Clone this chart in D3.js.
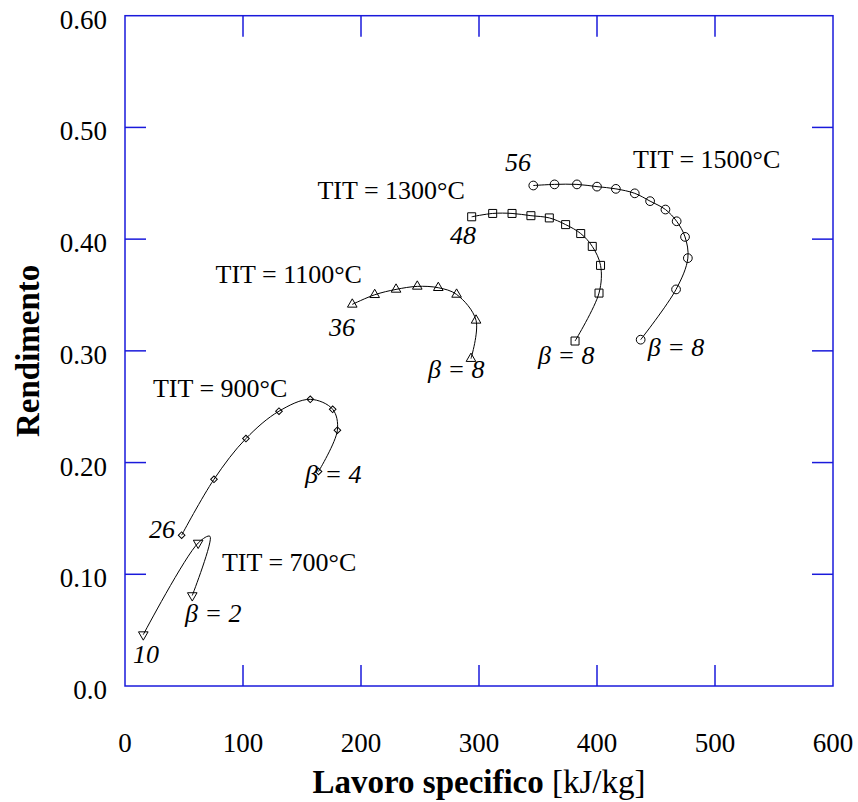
<!DOCTYPE html>
<html>
<head>
<meta charset="utf-8">
<script src="https://cdn.jsdelivr.net/npm/d3@7"></script>
<style>
  body { margin: 0; background: #fff; }
  svg { display: block; font-family: "Liberation Serif", "DejaVu Serif", serif; }
</style>
</head>
<body>
<svg id="chart" width="858" height="802"></svg>
<script>
// values: [lavoro specifico kJ/kg, rendimento]
const tit1500 = [[346, 0.448], [364, 0.449], [383, 0.449], [400, 0.447], [416, 0.445], [432, 0.441],
                 [445, 0.434], [458, 0.4265], [467.5, 0.416], [474.6, 0.402], [477, 0.383], [467, 0.355], [437, 0.310]];
const tit1300 = [[293.8, 0.420], [311.6, 0.423], [328, 0.423], [344, 0.421], [359.6, 0.419], [373.4, 0.413],
                 [386.2, 0.405], [396, 0.3935], [403, 0.3765], [401.7, 0.3517], [381.4, 0.3088]];
const tit1100 = [[192.6, 0.3416], [211.6, 0.3502], [229.7, 0.355], [247.7, 0.3577], [265.5, 0.3565],
                 [281, 0.3505], [297.5, 0.3273], [293.2, 0.293]];
const tit900 = [[48, 0.135], [75.4, 0.185], [102.5, 0.2215], [130.5, 0.246], [157, 0.2566],
                [176, 0.2477], [180, 0.229], [164, 0.192]];
const tit700 = [[15.5, 0.046], [62, 0.128], [72, 0.134], [57, 0.081]];

const xTicks = [0, 100, 200, 300, 400, 500, 600];
const yTicks = [0, 0.1, 0.2, 0.3, 0.4, 0.5, 0.6];
const yTickLabels = ["0.0", "0.10", "0.20", "0.30", "0.40", "0.50", "0.60"];

// annotations, placed in data units
const labels = [
  { t: "TIT = 1500°C", x: 430.5, y: 0.464, anchor: "start", it: false },
  { t: "56", x: 344, y: 0.4614, anchor: "end", it: true },
  { t: "TIT = 1300°C", x: 288, y: 0.4355, anchor: "end", it: false },
  { t: "48", x: 275.4, y: 0.396, anchor: "start", it: true },
  { t: "TIT = 1100°C", x: 200.8, y: 0.361, anchor: "end", it: false },
  { t: "36", x: 195, y: 0.313, anchor: "end", it: true },
  { t: "β = 8", x: 256.8, y: 0.2754, anchor: "start", it: true },
  { t: "β = 8", x: 350, y: 0.288, anchor: "start", it: true },
  { t: "β = 8", x: 443, y: 0.295, anchor: "start", it: true },
  { t: "TIT = 900°C", x: 23.7, y: 0.2584, anchor: "start", it: false },
  { t: "β = 4", x: 152.5, y: 0.182, anchor: "start", it: true },
  { t: "26", x: 42.4, y: 0.1323, anchor: "end", it: true },
  { t: "TIT = 700°C", x: 82.2, y: 0.1028, anchor: "start", it: false },
  { t: "β = 2", x: 50.8, y: 0.057, anchor: "start", it: true },
  { t: "10", x: 6.8, y: 0.0206, anchor: "start", it: true }
];

const series = [
  { data: tit1500, sym: d3.symbolCircle, size: 60, rot: 0, skip: [] },
  { data: tit1300, sym: d3.symbolSquare, size: 64, rot: 0, skip: [] },
  { data: tit1100, sym: d3.symbolTriangle, size: 40, rot: 0, skip: [] },
  { data: tit900, sym: d3.symbolSquare, size: 22, rot: 45, skip: [] },
  { data: tit700, sym: d3.symbolTriangle, size: 40, rot: 180, skip: [2] }
];

const plotLeft = 125, plotRight = 833, plotTop = 15.7, plotBottom = 686;
const blue = "#1a1adb";
const tickLen = 21;

const svg = d3.select("#chart");
const x = d3.scaleLinear().domain([0, 600]).range([plotLeft, plotRight]);
const y = d3.scaleLinear().domain([0, 0.6]).range([plotBottom, plotTop]);

// frame
svg.append("rect")
  .attr("x", plotLeft).attr("y", plotTop)
  .attr("width", plotRight - plotLeft).attr("height", plotBottom - plotTop)
  .attr("fill", "none").attr("stroke", blue).attr("stroke-width", 1.5);

// inward ticks on all four sides
const g = svg.append("g").attr("stroke", blue).attr("stroke-width", 1.5);
xTicks.slice(1, -1).forEach(v => {
  g.append("line").attr("x1", x(v)).attr("x2", x(v)).attr("y1", plotBottom).attr("y2", plotBottom - tickLen);
  g.append("line").attr("x1", x(v)).attr("x2", x(v)).attr("y1", plotTop).attr("y2", plotTop + tickLen);
});
yTicks.slice(1, -1).forEach(v => {
  g.append("line").attr("x1", plotLeft).attr("x2", plotLeft + tickLen).attr("y1", y(v)).attr("y2", y(v));
  g.append("line").attr("x1", plotRight).attr("x2", plotRight - tickLen).attr("y1", y(v)).attr("y2", y(v));
});

// tick labels
svg.append("g").selectAll("text").data(xTicks).join("text")
  .attr("x", d => x(d)).attr("y", 752)
  .attr("text-anchor", "middle").attr("font-size", 27)
  .text(d => d);
svg.append("g").selectAll("text").data(yTicks).join("text")
  .attr("x", 107).attr("y", d => y(d) + 13)
  .attr("text-anchor", "end").attr("font-size", 27)
  .text((d, i) => yTickLabels[i]);

// axis titles
const xt = svg.append("text")
  .attr("x", (plotLeft + plotRight) / 2).attr("y", 793)
  .attr("text-anchor", "middle").attr("font-size", 33);
xt.append("tspan").attr("font-weight", "bold").text("Lavoro specifico");
xt.append("tspan").text(" [kJ/kg]");

svg.append("text")
  .attr("transform", `translate(39,${(plotTop + plotBottom) / 2}) rotate(-90)`)
  .attr("text-anchor", "middle").attr("font-size", 33).attr("font-weight", "bold")
  .text("Rendimento");

// curves and markers
const line = d3.line()
  .x(d => x(d[0])).y(d => y(d[1]))
  .curve(d3.curveCatmullRom.alpha(0.5));

series.forEach(s => {
  svg.append("g").selectAll("path")
    .data(s.data.filter((d, i) => !s.skip.includes(i)))
    .join("path")
    .attr("d", d3.symbol().type(s.sym).size(s.size))
    .attr("transform", d => `translate(${x(d[0])},${y(d[1])}) rotate(${s.rot})`)
    .attr("fill", "#fff").attr("stroke", "#000").attr("stroke-width", 1);
  svg.append("path")
    .datum(s.data)
    .attr("d", line)
    .attr("fill", "none").attr("stroke", "#000").attr("stroke-width", 1);
});

// annotations
svg.append("g").selectAll("text").data(labels).join("text")
  .attr("x", d => x(d.x)).attr("y", d => y(d.y))
  .attr("text-anchor", d => d.anchor)
  .attr("font-size", 26)
  .attr("font-style", d => d.it ? "italic" : "normal")
  .text(d => d.t);
</script>
</body>
</html>
